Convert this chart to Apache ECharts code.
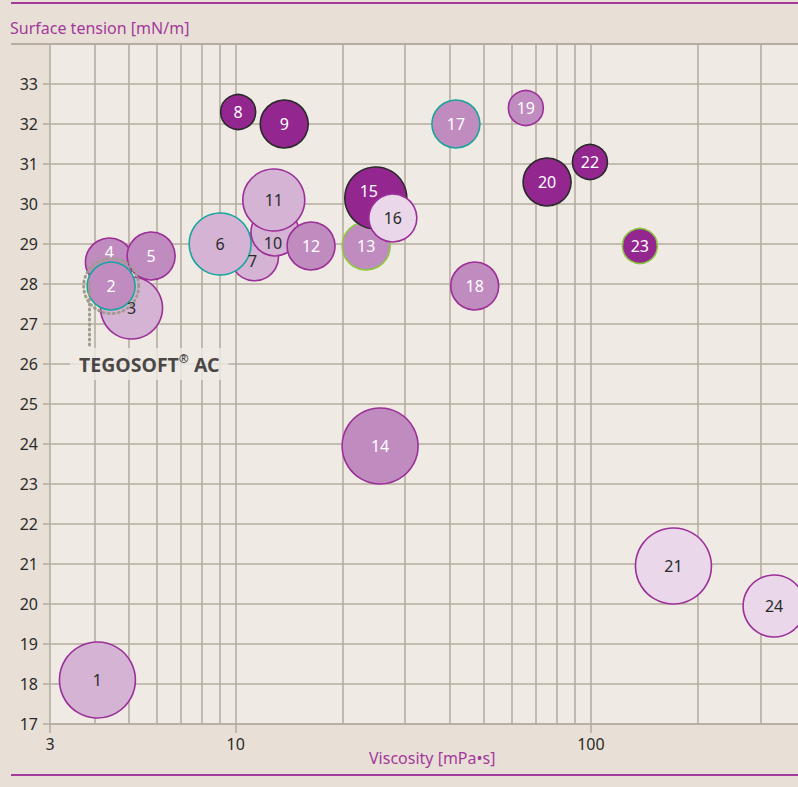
<!DOCTYPE html>
<html><head><meta charset="utf-8">
<style>html,body{margin:0;padding:0;background:#e8e0d6}#c{width:798px;height:787px}</style>
<script src="https://cdn.jsdelivr.net/npm/echarts@6/dist/echarts.min.js"></script>
</head><body><div id="c"></div>
<script>
// ---- data (bubble numbers 1..24) ----
const bubbleLabels = ['1','2','3','4','5','6','7','8','9','10','11','12','13','14','15','16','17','18','19','20','21','22','23','24'];
const viscosity = [4.08, 4.46, 5.09, 4.41, 5.78, 9.04, 11.3, 10.16, 13.7, 12.9, 12.8, 16.3, 23.3, 25.5, 24.8, 27.7, 41.7, 47.1, 65.6, 75.3, 170.8, 99.4, 137.4, 328];
const surfaceTension = [18.1, 27.95, 27.4, 28.55, 28.7, 29.0, 28.68, 32.3, 32.0, 29.3, 30.1, 28.95, 28.95, 23.95, 30.15, 29.65, 32.0, 27.95, 32.4, 30.55, 20.95, 31.05, 28.95, 19.95];
const sizeClass = [4, 2, 3, 2, 2, 3, 2, 1, 2, 2, 3, 2, 2, 4, 3, 2, 2, 2, 1, 2, 4, 1, 1, 3];
const fillGroup = ['L','M','L','M','M','L','L','D','D','L','L','M','M','M','D','P','M','M','M','D','P','D','D','P'];
const ringGroup = ['p','t','p','p','p','t','p','k','k','p','p','p','g','p','k','p','t','p','p','k','p','k','g','p'];
const drawOrder = [1,3,4,5,2,7,6,10,11,12,8,9,13,15,16,14,17,18,19,20,22,23,21,24];
const xTickLabels = [3, 10, 100];
const xGridValues = [3,4,5,6,7,8,9,10,20,30,40,50,60,70,80,90,100,200,300];
const yMin = 17, yMax = 34;
const highlightName = 'TEGOSOFT';
const highlightMark = '®';
const highlightSuffix = 'AC';
const highlightIndex = 2;          // bubble "2"
const highlightLabelAt = [5.71, 26];
const highlightLeader = [[3.86, 28.0], [3.86, 26.4]];

// ---- styles ----
const FONT = 'Noto Sans';
const GRID = '#b6ada1';
const PLOT_BG = '#efebe4';
const MAGENTA = '#a4399c';
const radiusPx = {1: 17.5, 2: 24, 3: 31, 4: 38};
const fills = {L: '#d4b3d5', M: '#c08bbf', D: '#93278f', P: '#ead8ea'};
const rings = {p: '#9c2f98', t: '#19a59c', k: '#2a2a2a', g: '#8dc63f'};
const labelDark = {L: true, P: true, M: false, D: false};
const labelOffsets = {'4': [0, -10], '10': [-2, 11], '15': [-7, -7], '7': [-2, 4]};

const bubbleData = drawOrder.map(n => {
  const i = n - 1;
  return {
    value: [viscosity[i], surfaceTension[i]],
    name: bubbleLabels[i],
    symbolSize: radiusPx[sizeClass[i]] * 2,
    itemStyle: {color: fills[fillGroup[i]], borderColor: rings[ringGroup[i]], borderWidth: 1.6, opacity: 1},
    label: {
      color: labelDark[fillGroup[i]] ? '#2b2b2b' : '#ffffff',
      offset: labelOffsets[bubbleLabels[i]] || [0, 0]
    }
  };
});

const near = (v, t) => Math.abs(v - t) < 1e-6 * t;

const chart = echarts.init(document.getElementById('c'), null, {renderer: 'svg'});
chart.setOption({
  backgroundColor: '#e8e0d6',
  animation: false,
  textStyle: {fontFamily: FONT},
  grid: {left: 50, right: -2, top: 44, bottom: 63, show: true, backgroundColor: PLOT_BG, borderWidth: 0},
  xAxis: {
    type: 'log', logBase: 10, min: 3, max: 383,
    splitLine: {show: false},
    axisLine: {show: true, lineStyle: {color: GRID, width: 1.6}},
    axisTick: {show: true, length: 9, lineStyle: {color: GRID, width: 1.6}},
    axisLabel: {
      fontFamily: FONT, fontSize: 16, color: '#2b2b2b', margin: 12,
      showMaxLabel: false,
      formatter: v => xTickLabels.some(t => near(v, t)) ? String(xTickLabels.find(t => near(v, t))) : ''
    }
  },
  yAxis: {
    type: 'value', min: yMin, max: yMax, interval: 1,
    splitLine: {show: true, lineStyle: {color: GRID, width: 1.6}},
    axisLine: {show: false},
    axisTick: {show: true, length: 7, lineStyle: {color: GRID, width: 1.6}},
    axisLabel: {fontFamily: FONT, fontSize: 16, color: '#2b2b2b', margin: 12,
      formatter: v => v >= yMax ? '' : String(v)}
  },
  graphic: [
    {type: 'line', shape: {x1: 11, y1: 3, x2: 798, y2: 3}, style: {stroke: MAGENTA, lineWidth: 2}},
    {type: 'line', shape: {x1: 11, y1: 44, x2: 798, y2: 44}, style: {stroke: GRID, lineWidth: 2}},
    {type: 'line', shape: {x1: 11, y1: 775, x2: 798, y2: 775}, style: {stroke: MAGENTA, lineWidth: 2}},
    {type: 'text', left: 10, top: 20, style: {text: 'Surface tension [mN/m]', fill: MAGENTA, font: '16px "Noto Sans"'}},
    {type: 'text', left: 369, top: 750, style: {text: 'Viscosity [mPa•s]', fill: MAGENTA, font: '16px "Noto Sans"'}}
  ],
  series: [
    {
      type: 'scatter', data: [], z: 1, silent: true,
      markLine: {
        z: 1, silent: true, symbol: ['none', 'none'], label: {show: false},
        lineStyle: {color: GRID, width: 1.6, type: 'solid'},
        emphasis: {disabled: true},
        data: xGridValues.map(v => ({xAxis: v}))
      }
    },
    {
      type: 'scatter', z: 2, data: bubbleData,
      label: {show: true, position: 'inside', formatter: '{b}', fontFamily: FONT, fontSize: 16},
      emphasis: {disabled: true}
    },
    {
      type: 'scatter', z: 3, silent: true,
      data: [[viscosity[highlightIndex - 1], surfaceTension[highlightIndex - 1]]],
      symbolSize: 55,
      itemStyle: {color: 'rgba(0,0,0,0)', borderColor: '#a39a8e', borderWidth: 3, borderType: [1, 4], borderCap: 'round', opacity: 1},
      markLine: {
        z: 3, silent: true, symbol: ['none', 'none'], label: {show: false},
        lineStyle: {color: '#a39a8e', width: 3, type: [1, 4], cap: 'round'},
        data: [[{coord: highlightLeader[0]}, {coord: highlightLeader[1]}]]
      }
    },
    {
      type: 'scatter', z: 4, silent: true, symbolSize: 0,
      data: [{value: highlightLabelAt, name: highlightName}],
      label: {show: true, position: 'inside',
        formatter: '{n|' + highlightName + '}{s|' + highlightMark + '}{n| ' + highlightSuffix + '}',
        backgroundColor: PLOT_BG, padding: [4, 9, 4, 9],
        rich: {
          n: {fontFamily: FONT, fontSize: 19.5, fontWeight: 'bold', color: '#1e1a1b', lineHeight: 24},
          s: {fontFamily: FONT, fontSize: 12, fontWeight: 'bold', color: '#1e1a1b', verticalAlign: 'top', lineHeight: 15}
        }
      }
    }
  ]
});
</script></body></html>
